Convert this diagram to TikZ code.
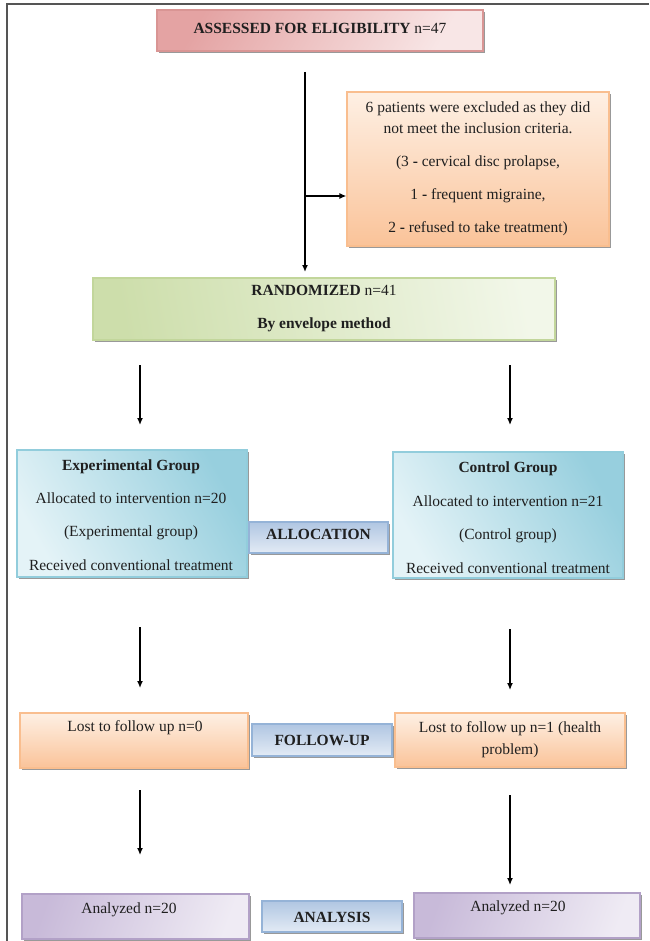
\documentclass[tikz,border=0pt]{standalone}
\usepackage{fontspec}
\setmainfont{Liberation Serif}
\usetikzlibrary{arrows.meta,shadows}
\definecolor{frameC}{HTML}{555555}
\definecolor{pinkB}{HTML}{D99594}
\definecolor{pinkD}{HTML}{E4A3A3}
\definecolor{pinkL}{HTML}{F8E6E6}
\definecolor{oraB}{HTML}{F9BE8F}
\definecolor{oraD}{HTML}{FAC399}
\definecolor{oraL}{HTML}{FEF0E4}
\definecolor{grnB}{HTML}{C2D69B}
\definecolor{grnD}{HTML}{CDDEAB}
\definecolor{grnL}{HTML}{F2F7E9}
\definecolor{bluB}{HTML}{92CDDC}
\definecolor{bluD}{HTML}{97CFDE}
\definecolor{bluL}{HTML}{E4F3F7}
\definecolor{labB}{HTML}{95B3D7}
\definecolor{labD}{HTML}{B0C6E2}
\definecolor{labL}{HTML}{E3EBF5}
\definecolor{purB}{HTML}{B2A1C7}
\definecolor{purD}{HTML}{C8BAD9}
\definecolor{purL}{HTML}{EFEBF4}
\begin{document}
\begin{tikzpicture}[x=1pt,y=-1pt,
  txt/.style={font=\fontsize{15.5}{18}\selectfont, align=center, inner sep=0pt, text=black!88},
  boxbase/.style={rectangle, line width=1.2pt, inner sep=0pt,
    drop shadow={shadow xshift=1.6pt, shadow yshift=-1.6pt, fill=black!40, opacity=1}},
  pinkbox/.style={boxbase, draw=pinkB, left color=pinkD, right color=pinkL, shading angle=60},
  orabox/.style={boxbase, draw=oraB, top color=oraL, bottom color=oraD},
  grnbox/.style={boxbase, draw=grnB, left color=grnD, right color=grnL, shading angle=100},
  blubox/.style={boxbase, draw=bluB, left color=bluL, right color=bluD, shading angle=120},
  labbox/.style={boxbase, draw=labB, top color=labD, bottom color=labL},
  purbox/.style={boxbase, draw=purB, left color=purD, right color=purL, shading angle=70},
  arr/.style={line width=1.3pt, -{Latex[length=7pt,width=6pt]}},
  frameline/.style={draw=frameC, line width=1.5pt}
]
\useasboundingbox (0,0) rectangle (649,941);
\draw[frameline] (7,941) -- (7,4) -- (649,4);

% boxes
\node[pinkbox, minimum width=326pt, minimum height=41pt] (assess) at (320,30.5) {};
\node[orabox, minimum width=262pt, minimum height=154pt] (excl) at (478,169) {};
\node[grnbox, minimum width=462pt, minimum height=62pt] (rand) at (324,309) {};
\node[blubox, minimum width=230pt, minimum height=127pt] (exp) at (132,513.5) {};
\node[blubox, minimum width=230pt, minimum height=126pt] (ctrl) at (508,515) {};
\node[labbox, minimum width=139pt, minimum height=31pt] (alloc) at (318.5,537.5) {};
\node[orabox, minimum width=228pt, minimum height=55pt] (lostL) at (134,740.5) {};
\node[labbox, minimum width=140pt, minimum height=32pt] (follow) at (322,740) {};
\node[orabox, minimum width=230pt, minimum height=54pt] (lostR) at (510,740) {};
\node[purbox, minimum width=227pt, minimum height=45pt] (anL) at (135.5,916.5) {};
\node[labbox, minimum width=140pt, minimum height=31pt] (analysis) at (332,916.5) {};
\node[purbox, minimum width=226pt, minimum height=45pt] (anR) at (527,915.5) {};

% texts
\node[txt] (assessT) at (320,28) {\textbf{ASSESSED FOR ELIGIBILITY} n=47};
\node[txt, font=\fontsize{15.5}{21}\selectfont] (exclT) at (478,168.5)
  {6 patients were excluded as they did\\not meet the inclusion criteria.\\[12pt](3 \textbf{-} cervical disc prolapse,\\[12pt]1 \textbf{-} frequent migraine,\\[12pt]2 \textbf{-} refused to take treatment)};
\node[txt, font=\fontsize{15.5}{33}\selectfont] (randT) at (324,308.5)
  {\textbf{RANDOMIZED} n=41\\\textbf{By envelope method}};
\node[txt, font=\fontsize{15.5}{33.3}\selectfont] (expT) at (131,515)
  {\textbf{Experimental Group}\\Allocated to intervention n=20\\(Experimental group)\\Received conventional treatment};
\node[txt, font=\fontsize{15.5}{33.6}\selectfont] (ctrlT) at (508,517.5)
  {\textbf{Control Group}\\Allocated to intervention n=21\\(Control group)\\Received conventional treatment};
\node[txt] (allocT) at (318.5,534) {\textbf{ALLOCATION}};
\node[txt] (lostLT) at (135,728) {Lost to follow up n=0};
\node[txt] (followT) at (322,740) {\textbf{FOLLOW-UP}};
\node[txt, font=\fontsize{15.5}{22}\selectfont] (lostRT) at (510,739.5) {Lost to follow up n=1 (health\\problem)};
\node[txt] (anLT) at (129,910) {Analyzed n=20};
\node[txt] (analysisT) at (332,917) {\textbf{ANALYSIS}};
\node[txt] (anRT) at (518,908) {Analyzed n=20};

% connectors
\coordinate (m0) at (305,72);
\coordinate (m1) at (305,272);
\coordinate (br) at (305,196);
\draw[arr] (m0) -- (m1);
\draw[arr] (br) -- (br -| excl.west);

\coordinate (a1s) at (140,365); \coordinate (a1e) at (140,425);
\coordinate (b1s) at (510,365); \coordinate (b1e) at (510,425);
\coordinate (a2s) at (140,627); \coordinate (a2e) at (140,688);
\coordinate (b2s) at (510,629); \coordinate (b2e) at (510,690);
\coordinate (a3s) at (140,790); \coordinate (a3e) at (140,855);
\coordinate (b3s) at (510,795); \coordinate (b3e) at (510,885);
\draw[arr] (a1s) -- (a1e);
\draw[arr] (b1s) -- (b1e);
\draw[arr] (a2s) -- (a2e);
\draw[arr] (b2s) -- (b2e);
\draw[arr] (a3s) -- (a3e);
\draw[arr] (b3s) -- (b3e);
\end{tikzpicture}
\end{document}
